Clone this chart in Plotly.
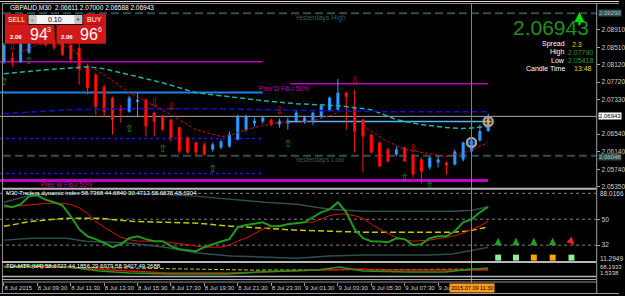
import plotly.graph_objects as go

W, H = 625, 296
PX_PER_BAR = 8.43
X0_PX = 4.0
RIGHT_PX = 602.0

def px(x):
    return x / W

def py(y):
    return 1 - y / H

# ---------------- data: GBPAUD M30, 8 Jul 2015 07:30 -> 9 Jul 2015 12:30 ----------------
bar_idx = list(range(59))
opens = [2.08184, 2.08275, 2.08184, 2.08388, 2.08638, 2.08910, 2.08683, 2.08729, 2.08570, 2.08502,
         2.08071, 2.07890, 2.07617, 2.07368, 2.07119, 2.07051, 2.07277, 2.07323, 2.07028, 2.06937,
         2.06869, 2.06688, 2.06461, 2.06348, 2.06302, 2.06189, 2.06234, 2.06257, 2.06416, 2.06642,
         2.06778, 2.06824, 2.06869, 2.06756, 2.06778, 2.06846, 2.06824, 2.06824, 2.06937, 2.07073,
         2.07096, 2.07481, 2.07141, 2.06869, 2.06529, 2.06348, 2.06189, 2.06075, 2.06234, 2.06075,
         2.05962, 2.05781, 2.05894, 2.05894, 2.05849, 2.05962, 2.06144, 2.06393, 2.06611]
highs = [2.08615, 2.08411, 2.08683, 2.08729, 2.09001, 2.09023, 2.08865, 2.08865, 2.08683, 2.08593,
         2.08139, 2.07935, 2.07663, 2.07391, 2.07209, 2.07413, 2.07481, 2.07345, 2.07051, 2.06983,
         2.06892, 2.06710, 2.06484, 2.06370, 2.06348, 2.06348, 2.06416, 2.06597, 2.06983, 2.06983,
         2.06915, 2.06960, 2.06892, 2.06892, 2.06915, 2.07073, 2.06960, 2.07051, 2.07209, 2.07391,
         2.07790, 2.07504, 2.07549, 2.06892, 2.06552, 2.06370, 2.06234, 2.06257, 2.06257, 2.06075,
         2.06007, 2.06030, 2.06053, 2.05917, 2.06189, 2.06370, 2.06416, 2.06756, 2.07000]
lows = [2.08139, 2.08071, 2.08162, 2.08366, 2.08615, 2.08525, 2.08456, 2.08320, 2.08184, 2.07663,
        2.07436, 2.06983, 2.06937, 2.06529, 2.06801, 2.07028, 2.06937, 2.06484, 2.06484, 2.06620,
        2.06370, 2.06098, 2.06098, 2.06030, 2.06053, 2.06144, 2.06189, 2.06234, 2.06393, 2.06597,
        2.06710, 2.06778, 2.06710, 2.06688, 2.06642, 2.06824, 2.06778, 2.06756, 2.06892, 2.07051,
        2.07073, 2.06642, 2.06121, 2.05667, 2.06098, 2.05803, 2.05894, 2.06030, 2.05917, 2.05554,
        2.05418, 2.05735, 2.05781, 2.05622, 2.05826, 2.05917, 2.06121, 2.06370, 2.06588]
closes = [2.08570, 2.08184, 2.08615, 2.08615, 2.08910, 2.08570, 2.08502, 2.08343, 2.08230, 2.08003,
          2.07595, 2.07164, 2.07051, 2.06869, 2.07073, 2.07368, 2.07323, 2.06710, 2.06824, 2.06642,
          2.06461, 2.06144, 2.06121, 2.06121, 2.06075, 2.06302, 2.06370, 2.06529, 2.06937, 2.06937,
          2.06846, 2.06915, 2.06756, 2.06846, 2.06846, 2.07028, 2.06915, 2.07028, 2.07187, 2.07368,
          2.07481, 2.07391, 2.06597, 2.06484, 2.06121, 2.05803, 2.05917, 2.06189, 2.05917, 2.05622,
          2.05690, 2.06007, 2.05962, 2.05826, 2.06144, 2.06348, 2.06393, 2.06611, 2.06943]

time_tick_idx = [0, 4, 8, 12, 16, 20, 24, 28, 32, 36, 40, 44, 48, 52]
time_tick_text = ["8 Jul 2015", "8 Jul 09:30", "8 Jul 11:30", "8 Jul 13:30", "8 Jul 15:30",
                  "8 Jul 17:30", "8 Jul 19:30", "8 Jul 21:30", "8 Jul 23:30", "9 Jul 01:30",
                  "9 Jul 03:30", "9 Jul 05:30", "9 Jul 07:30", "9 Jul 0"]
price_ticks = [2.08910, 2.08510, 2.08120, 2.07720, 2.07330, 2.06540, 2.06140, 2.05740, 2.05350]

# moving averages on price
red_ma_x = [2, 4, 6, 8, 10, 12, 15, 18, 20, 23, 26, 27, 29, 31, 33, 35, 37, 39, 40]
red_ma_y = [2.08388, 2.08570, 2.08615, 2.08502, 2.08116, 2.07890, 2.07481, 2.07187, 2.06983, 2.06642,
            2.06484, 2.06506, 2.06642, 2.06733, 2.06801, 2.06801, 2.06846, 2.06960, 2.07028]
red_ma2_x = [43.4, 45.5, 48, 53, 55.6, 58]
red_ma2_y = [2.06688, 2.06416, 2.06189, 2.06030, 2.06144, 2.06348]
cyan_ma_x = [0, 5, 10, 12, 15, 19, 23, 27, 31, 35, 40, 44, 47, 50, 53, 55, 57, 58]
cyan_ma_y = [2.07912, 2.08003, 2.08071, 2.08026, 2.07890, 2.07708, 2.07481, 2.07391, 2.07300, 2.07232,
             2.07187, 2.07096, 2.06869, 2.06756, 2.06688, 2.06665, 2.06688, 2.06710]
blue_ma_x = [0, 4, 8, 15, 25, 31, 38, 45, 52, 58]
blue_ma_y = [2.07005, 2.07051, 2.07096, 2.07119, 2.07119, 2.07096, 2.07073, 2.07051, 2.07051, 2.07051]

# horizontal levels
yest_high = 2.09290
yest_low = 2.06048
bid_price = 2.06943
prev_d_fib_old = 2.08184
prev_d_fib_new = 2.07686
pivot_old = 2.07488
pivot_new = 2.06824
dotted_lvl = [2.06438, 2.05645]
prev_w_fib = 2.05486

# signal arrows
up_arrow_x = [0, 3, 15, 19, 25, 34, 48, 51]
up_arrow_y = [2.07708, 2.08184, 2.06642, 2.06189, 2.05735, 2.06302, 2.05531, 2.05340]
dn_arrow_x = [1, 18, 20, 33, 42, 49]
dn_arrow_y = [2.08513, 2.07232, 2.07141, 2.07051, 2.07731, 2.06189]
ring_x = [56, 58]
ring_y = [2.06348, 2.06824]

# Traders Dynamic Index (M30)
tdi_green = [59.7, 58.3, 60.4, 65.9, 66.6, 63.5, 61.8, 59.7, 52.1, 43.1,
             38.2, 36.2, 33.5, 30.6, 32.7, 36.8, 38.2, 36.2, 34.8, 34.8,
             31.3, 29.2, 28.5, 27.8, 30.6, 32.7, 34.5, 36.2, 44.5, 46.0,
             47.0, 47.9, 45.2, 45.2, 46.5, 47.2, 47.9, 51.4, 54.8, 56.9,
             61.8, 54.8, 43.1, 36.8, 34.8, 34.5, 34.1, 36.8, 36.2, 32.0,
             32.7, 36.8, 38.2, 38.2, 41.7, 47.9, 50.0, 54.8, 58.69]
tdi_red = [58.3, 58.8, 59.5, 60.2, 60.7, 61.0, 61.1, 61.1, 60.2, 58.0,
           54.0, 48.5, 44.5, 41.0, 37.5, 35.8, 34.8, 34.8, 34.8, 34.5,
           33.8, 33.0, 31.8, 31.0, 30.6, 30.6, 30.6, 32.0, 34.8, 37.0,
           40.0, 43.1, 44.8, 45.8, 46.5, 47.2, 47.9, 48.0, 50.5, 52.5,
           53.5, 53.5, 52.5, 50.7, 46.5, 43.0, 40.0, 37.5, 35.8, 34.8,
           35.0, 35.5, 36.5, 37.5, 38.5, 40.5, 43.0, 45.2, 48.63]
tdi_mid_x = [0, 3.4, 7.5, 11.4, 15.3, 19.3, 23.2, 27.2, 31.2, 35.1, 39.0, 43.1, 47.0, 50.9, 53.7, 55.6, 56.8, 58]
tdi_mid_v = [45.2, 48.6, 50.7, 50.7, 48.6, 47.9, 47.2, 45.2, 43.8, 42.4, 41.7, 41.0, 41.0, 41.0, 41.0, 41.7, 43.1, 44.68]
tdi_up_x = [0, 2.7, 4.6, 7.5, 15.3, 19.3, 23.2, 27.2, 31.2, 35.1, 39.0, 43.1, 47.0, 53.7, 56.1, 58]
tdi_up_v = [61.8, 65.9, 67.3, 68.0, 68.0, 67.3, 65.9, 63.8, 61.8, 60.4, 56.9, 55.5, 55.5, 55.5, 56.2, 58.74]
tdi_lo_x = [0, 3.4, 7.5, 9.8, 12.6, 15.3, 19.3, 23.2, 27.2, 31.2, 35.1, 39.0, 43.1, 47.0, 50.9, 53.7, 56.1, 58]
tdi_lo_v = [35.5, 36.8, 36.8, 34.8, 34.1, 33.4, 30.6, 26.5, 24.4, 23.7, 23.0, 24.4, 25.1, 25.1, 25.1, 25.8, 28.5, 30.47]
tdi_levels = [68, 50, 32]

# TDI MTF (H4)
mtf_green_x = [0, 4.3, 7.8, 11.4, 15, 19.7, 26.8, 30.4, 37.5, 39, 40.2, 43, 48.2, 52.9, 55, 58]
mtf_green_v = [60, 70, 60, 40, 30, 25, 25, 35, 45, 55, 60, 40, 35, 35, 45, 55]
mtf_red_x = [0, 6.6, 15, 19.7, 26.8, 32.7, 37.5, 43, 44, 58]
mtf_red_v = [65, 60, 40, 30, 30, 40, 45, 50, 45, 45]
mtf_mid_x = [0, 15, 30, 58]
mtf_mid_v = [60, 55, 45, 50]

# ---------------- figure ----------------
fig = go.Figure()

bull = [c >= o for o, c in zip(opens, closes)]
for flag, col in [(True, '#3aa0ff'), (False, '#ff1a1a')]:
    wx, wy = [], []
    for i in bar_idx:
        if bull[i] == flag:
            wx += [i, i, None]
            wy += [lows[i], highs[i], None]
    fig.add_trace(go.Scatter(x=wx, y=wy, mode='lines', line=dict(color=col, width=1),
                             xaxis='x', yaxis='y', hoverinfo='skip'))
fig.add_trace(go.Bar(x=bar_idx,
                     y=[max(abs(c - o), 0.00004) for o, c in zip(opens, closes)],
                     base=[min(o, c) for o, c in zip(opens, closes)],
                     width=0.38,
                     marker=dict(color=['#1e90ff' if b else '#ff0000' for b in bull], line=dict(width=0)),
                     xaxis='x', yaxis='y'))

fig.add_trace(go.Scatter(x=cyan_ma_x, y=cyan_ma_y, mode='lines',
                         line=dict(color='#20b2aa', width=1.5, dash='5px,3px'), xaxis='x', yaxis='y'))
fig.add_trace(go.Scatter(x=blue_ma_x, y=blue_ma_y, mode='lines',
                         line=dict(color='#1010d0', width=1.5, dash='6px,3px'), xaxis='x', yaxis='y'))
for xs, ys in [(red_ma_x, red_ma_y), (red_ma2_x, red_ma2_y)]:
    fig.add_trace(go.Scatter(x=xs, y=ys, mode='lines',
                             line=dict(color='#d01010', width=1, dash='3px,2px'), xaxis='x', yaxis='y'))

fig.add_trace(go.Scatter(x=up_arrow_x, y=up_arrow_y, mode='text', text=['⇧'] * len(up_arrow_x),
                         textfont=dict(color='#1fa01f', size=10, family='DejaVu Sans'),
                         xaxis='x', yaxis='y'))
fig.add_trace(go.Scatter(x=dn_arrow_x, y=dn_arrow_y, mode='text', text=['⇩'] * len(dn_arrow_x),
                         textfont=dict(color='#d01818', size=10, family='DejaVu Sans'),
                         xaxis='x', yaxis='y'))
fig.add_trace(go.Scatter(x=ring_x, y=ring_y, mode='markers',
                         marker=dict(symbol='circle-open', size=9, color='#a0a0a0', line=dict(width=2.5)),
                         xaxis='x', yaxis='y'))
fig.add_trace(go.Scatter(x=ring_x, y=ring_y, mode='markers',
                         marker=dict(symbol='cross-thin-open', size=4, color=['#3070ff', '#ffb020'],
                                     line=dict(width=1.5, color=['#3070ff', '#ffb020'])),
                         xaxis='x', yaxis='y'))

# dynamic index panel
fig.add_trace(go.Scatter(x=tdi_up_x, y=tdi_up_v, mode='lines', line=dict(color='#2f4f4f', width=1.5),
                         xaxis='x', yaxis='y2'))
fig.add_trace(go.Scatter(x=tdi_lo_x, y=tdi_lo_v, mode='lines', line=dict(color='#2f4f4f', width=1.5),
                         xaxis='x', yaxis='y2'))
fig.add_trace(go.Scatter(x=tdi_mid_x, y=tdi_mid_v, mode='lines',
                         line=dict(color='#c8c800', width=1.5, dash='6px,3px'), xaxis='x', yaxis='y2'))
fig.add_trace(go.Scatter(x=bar_idx, y=tdi_red, mode='lines', line=dict(color='#e01010', width=1),
                         xaxis='x', yaxis='y2'))
fig.add_trace(go.Scatter(x=bar_idx, y=tdi_green, mode='lines', line=dict(color='#1f9a1f', width=2),
                         xaxis='x', yaxis='y2'))

# TDI MTF panel
fig.add_trace(go.Scatter(x=mtf_mid_x, y=mtf_mid_v, mode='lines',
                         line=dict(color='#c8c800', width=1, dash='4px,2px'), xaxis='x', yaxis='y3'))
fig.add_trace(go.Scatter(x=mtf_red_x, y=mtf_red_v, mode='lines', line=dict(color='#e01010', width=1.5),
                         xaxis='x', yaxis='y3'))
fig.add_trace(go.Scatter(x=mtf_green_x, y=mtf_green_v, mode='lines', line=dict(color='#1f9a1f', width=1.5),
                         xaxis='x', yaxis='y3'))

shapes = []

def hline(y, x0, x1, color, width, dash='solid', yref='y', xref='x'):
    shapes.append(dict(type='line', xref=xref, yref=yref, x0=x0, x1=x1, y0=y, y1=y,
                       line=dict(color=color, width=width, dash=dash), layer='below'))

def prect(x0, y0, x1, y1, fill, line=None):
    shapes.append(dict(type='rect', xref='paper', yref='paper', x0=px(x0), x1=px(x1), y0=py(y1), y1=py(y0),
                       fillcolor=fill, line=dict(width=0) if line is None else line, layer='above'))

def pline(x0, y0, x1, y1, color, width=1):
    shapes.append(dict(type='line', xref='paper', yref='paper', x0=px(x0), x1=px(x1), y0=py(y0), y1=py(y1),
                       line=dict(color=color, width=width), layer='above'))

left_i = -0.47
hline(yest_high, 0.005, 1, '#2f4f4f', 2, '8px,4px', xref='x domain')
hline(yest_low, 0.005, 1, '#2f4f4f', 2, '8px,4px', xref='x domain')
hline(prev_d_fib_old, left_i, 31, '#c000c0', 1.5)
hline(prev_d_fib_new, 34.3, 58, '#c000c0', 1.5)
hline(pivot_old, left_i, 31, '#1e80e0', 2)
hline(pivot_new, 34, 58, '#50b8ff', 1.5)
for lv in dotted_lvl:
    hline(lv, left_i, 31, '#1a1ae0', 1.5, 'dot')
hline(bid_price, 0, 1, '#a8a8a8', 1, xref='x domain')
hline(prev_w_fib, left_i, 58, '#c000c0', 3)
for lv in tdi_levels:
    hline(lv, 0, 1, '#808080', 1, 'dot', yref='y2', xref='x domain')

# cursor line
shapes.append(dict(type='line', xref='x', yref='paper', x0=56, x1=56, y0=py(284), y1=py(4),
                   line=dict(color='#d2691e', width=1), layer='above'))

# window frame and separators
pline(0, 1.5, 625, 1.5, '#d8d8d8', 1)
pline(2, 3.5, 625, 3.5, '#909090', 1)
pline(2.5, 3, 2.5, 294, '#909090', 1)
pline(602.5, 3, 602.5, 294, '#a0a0a0', 1)
pline(2, 189.5, 602, 189.5, '#b8b8b8', 2)
pline(2, 263, 602, 263, '#b8b8b8', 2)
pline(2, 277.5, 602, 277.5, '#b8b8b8', 1.5)
pline(2, 280.5, 602, 280.5, '#b8b8b8', 1)
pline(2, 283, 602, 283, '#909090', 1)
pline(0, 294.5, 625, 294.5, '#a0a0a0', 1)

# one-click trading panel
prect(5, 14, 28, 25, '#cc1515')
prect(84, 14, 107, 25, '#cc1515')
prect(5, 25, 55, 44, '#d01a1a')
prect(57, 25, 107, 44, '#d01a1a')
prect(29, 15, 83, 24, '#f2f2f2')
prect(29, 15, 37, 24, '#c4c4c4')
prect(75, 15, 83, 24, '#c4c4c4')

# dynamic-index signal squares
sq_px = [503, 521, 539, 558, 577]
sq_col = ['#90ee90', '#90ee90', '#ffa500', '#ffa500', '#90ee90']
for xx, cc in zip(sq_px, sq_col):
    prect(xx - 3, 255.5, xx + 3, 261.5, cc)

ann = []

def txt(x, y, s, size=6.5, color='#d8d8d8', xanchor='left', yanchor='middle', family='Liberation Sans', **kw):
    d = dict(x=px(x), y=py(y), xref='paper', yref='paper', text=s, showarrow=False,
             xanchor=xanchor, yanchor=yanchor, font=dict(size=size, color=color, family=family),
             borderpad=0)
    d.update(kw)
    ann.append(d)

txt(9, 8, 'GBPAUD,M30  2.06611 2.07000 2.06588 2.06943', 6.5, '#ffffff')
txt(16.5, 19.5, 'SELL', 7, '#ffffff', 'center')
txt(95.5, 19.5, 'BUY', 7, '#ffffff', 'center')
txt(56, 19.5, '0.10', 7, '#000000', 'center')
txt(33, 19.5, '-', 7, '#303030', 'center')
txt(79, 19.5, '+', 7, '#303030', 'center')
txt(23.5, 37, '<b>2.06</b>', 6, '#ffffff', 'right')
txt(29, 34.5, '94', 16, '#ffffff', 'left')
txt(46, 29.5, '3', 7, '#ffffff', 'left')
txt(74.5, 37, '<b>2.06</b>', 6, '#ffffff', 'right')
txt(80, 34.5, '96', 16, '#ffffff', 'left')
txt(97.5, 29.5, '6', 7, '#ffffff', 'left')

txt(596, 27.5, '2.06943', 21, '#1f8f1f', 'right')
txt(571, 44.5, 'Spread', 7, '#ffffff', 'right')
txt(577, 44.5, '2.3', 7, '#f0d000')
txt(571, 52.5, 'High', 7, '#ffffff', 'right')
txt(572, 52.5, '2.07790', 7, '#2a9a2a')
txt(571, 60.5, 'Low', 7, '#ffffff', 'right')
txt(572, 60.5, '2.05418', 7, '#2a9a2a')
txt(571, 68.5, 'Candle Time', 7, '#ffffff', 'right')
txt(579, 68.5, '13:48', 7, '#f0d000')
ann.append(dict(x=px(585), y=py(12), xref='paper', yref='paper', text='', showarrow=True,
                ax=0, ay=15, arrowcolor='#00e000', arrowwidth=2, arrowhead=2, arrowsize=1))

txt(297, 18, 'Yesterdays High', 7, '#3c5a5a')
txt(297, 161, 'Yesterdays Low', 7, '#3c5a5a')
txt(260, 88.5, 'Prev D Fib-r 50%', 6.5, '#c000c0')
txt(40, 185.5, 'Prev W Fib-r 50%', 6.5, '#c000c0')

txt(5, 194, 'M30 Traders dynamic index 58.7368 44.6840 30.4713 58.6878 48.6304', 6, '#ffffff')
txt(5, 267, 'TDI-MTF (H4) 58.6727 44.1856 29.6979 58.9407 49.2688', 6, '#ffffff')

# right-axis boxed labels
for val, bg, fg, dy in [(yest_high, '#2f4f4f', '#b0c0c0', 0), (bid_price, '#ffffff', '#000000', 0),
                        (yest_low, '#2f4f4f', '#b0c0c0', 1.5)]:
    ann.append(dict(x=px(604), y=val, xref='paper', yref='y', text=f'{val:.5f}', showarrow=False,
                    xanchor='left', yanchor='middle', bgcolor=bg, borderpad=0, yshift=-dy,
                    font=dict(size=6, color=fg, family='Liberation Sans')))
txt(605, 194, '88.0166', 6.5, '#d8d8d8')
txt(605, 259, '11.2949', 6.5, '#d8d8d8')
txt(605, 268, '68.1933', 6, '#d8d8d8')
txt(605, 274, '1.5338', 6, '#d8d8d8')

# timeframe arrows
for xx in [503, 521, 539, 558]:
    ann.append(dict(x=px(xx), y=py(238.5), xref='paper', yref='paper', text='', showarrow=True,
                    ax=0, ay=9, arrowcolor='#1fa01f', arrowwidth=1.5, arrowhead=2, arrowsize=1))
ann.append(dict(x=px(580), y=py(245.5), xref='paper', yref='paper', text='', showarrow=True,
                ax=-6, ay=-6, arrowcolor='#ff2020', arrowwidth=1.5, arrowhead=2, arrowsize=1))

# cursor time label
ann.append(dict(x=56, y=py(288.5), xref='x', yref='paper', text='2015.07.09 11:30', showarrow=False,
                xanchor='center', yanchor='middle', bgcolor='#ff9a1a', borderpad=1,
                font=dict(size=5.5, color='#000000', family='Liberation Sans')))

fig.update_layout(
    width=W, height=H, margin=dict(l=0, r=0, t=0, b=0),
    paper_bgcolor='#000000', plot_bgcolor='#000000',
    showlegend=False, barmode='overlay', hovermode=False,
    shapes=shapes, annotations=ann,
    xaxis=dict(domain=[0, RIGHT_PX / W], range=[-X0_PX / PX_PER_BAR, (RIGHT_PX - X0_PX) / PX_PER_BAR],
               showgrid=False, zeroline=False, showline=False, anchor='free', position=py(283),
               tickvals=time_tick_idx, ticktext=time_tick_text, ticks='outside', ticklen=3,
               tickcolor='#a0a0a0', ticklabelposition='outside right', tickangle=0,
               tickfont=dict(size=6, color='#d0d0d0', family='Liberation Sans')),
    yaxis=dict(domain=[py(189), py(4)], range=[2.05305, 2.09500], side='right', anchor='x',
               showgrid=False, zeroline=False, showline=False,
               tickvals=price_ticks, ticktext=[f'{v:.5f}' for v in price_ticks],
               ticks='outside', ticklen=3, tickcolor='#a0a0a0',
               tickfont=dict(size=6.5, color='#d0d0d0', family='Liberation Sans')),
    yaxis2=dict(domain=[py(262), py(191)], range=[20.92, 70.08], side='right', anchor='x',
                showgrid=False, zeroline=False, showline=False,
                tickvals=[50, 32], ticktext=['50', '32'], ticks='outside', ticklen=3, tickcolor='#a0a0a0',
                tickfont=dict(size=6.5, color='#d0d0d0', family='Liberation Sans')),
    yaxis3=dict(domain=[py(276), py(264)], range=[20, 80], side='right', anchor='x',
                showgrid=False, zeroline=False, showline=False, showticklabels=False, ticks=''),
)

fig.write_html('out.html')
